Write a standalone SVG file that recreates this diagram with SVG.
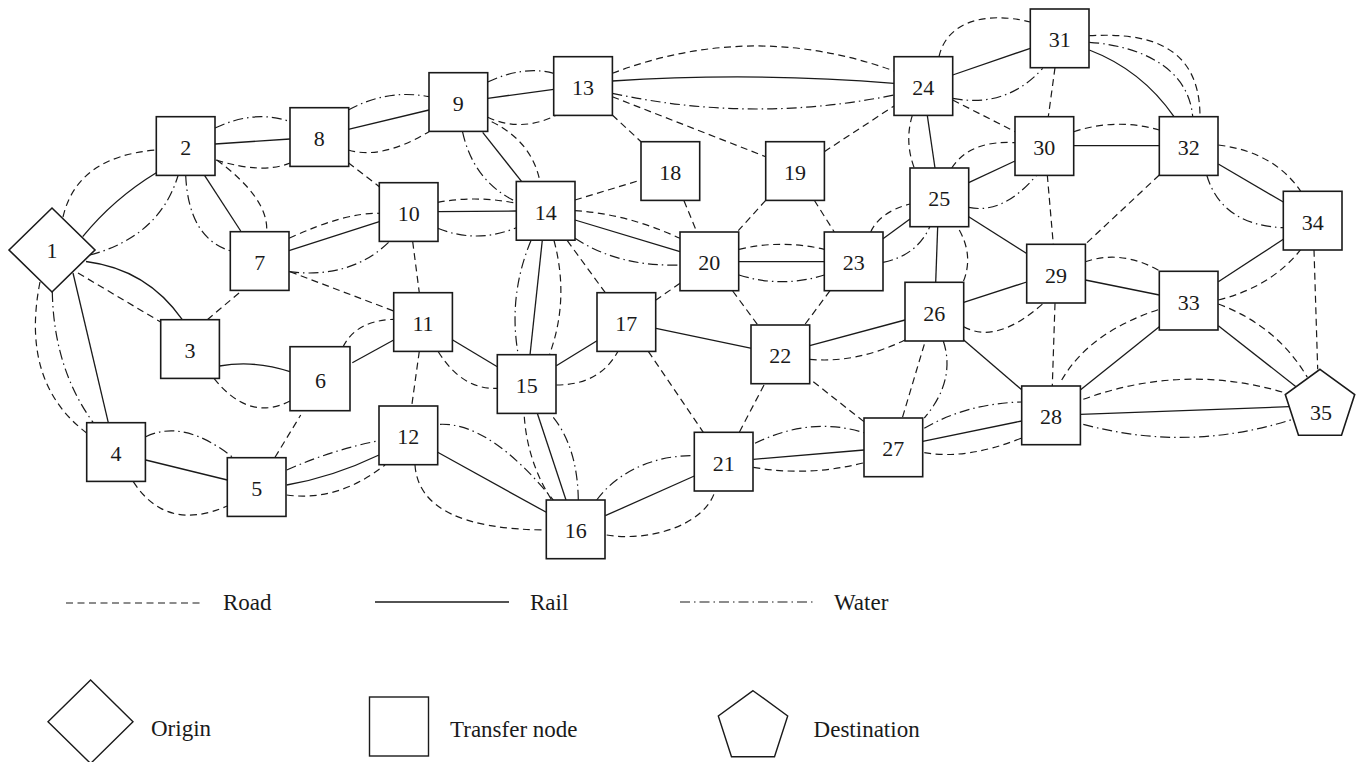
<svg xmlns="http://www.w3.org/2000/svg" width="1359" height="762" viewBox="0 0 1359 762">
<style>
.r{fill:none;stroke:#1a1a1a;stroke-width:1.2;stroke-dasharray:7 4.5}
.s{fill:none;stroke:#1a1a1a;stroke-width:1.3}
.w{fill:none;stroke:#1a1a1a;stroke-width:1.2;stroke-dasharray:10 4 1.5 4}
.n rect,.n polygon{fill:#fff;stroke:#1a1a1a;stroke-width:1.6}
.n text{font-family:"Liberation Serif","Times New Roman",serif;font-size:22px;text-anchor:middle;fill:#1a1a1a}
.lg{font-family:"Liberation Serif","Times New Roman",serif;font-size:23px;fill:#1a1a1a}
.lshape{fill:#fff;stroke:#1a1a1a;stroke-width:1.4}
</style>
<rect width="1359" height="762" fill="#fff"/>
<g id="connectors">
<!-- road -->
<path class="r" d="M63,217 Q77,156.5 156.3,150"/>
<path class="r" d="M216,160 Q263,174.5 290,163"/>
<path class="r" d="M216.7,160 Q268.3,197.9 266.7,231"/>
<path class="r" d="M289,238.3 Q345.8,212.2 379.3,213.3"/>
<path class="r" d="M290,271.7 L393.7,311"/>
<path class="r" d="M78,273 L160.7,322"/>
<path class="r" d="M40,282 Q20,382.5 86.7,433"/>
<path class="r" d="M207.3,319.7 L241.7,290.7"/>
<path class="r" d="M214,378.4 Q249,422.3 290,401"/>
<path class="r" d="M133.3,481.7 Q166.3,532.7 227.3,506"/>
<path class="r" d="M275,457.3 L300.7,415"/>
<path class="r" d="M343,347 Q355.6,320.8 393.7,319.3"/>
<path class="r" d="M286.7,495 Q338,502 385,465"/>
<path class="r" d="M348.3,150 Q381.3,160.1 429,131.7"/>
<path class="r" d="M348.3,162.7 L379.3,186.7"/>
<path class="r" d="M487.7,117.3 Q521.8,132.8 556.7,115"/>
<path class="r" d="M491.7,121.7 Q532.1,141.7 540,181.7"/>
<path class="r" d="M437.7,202.3 Q477,195.2 516.3,203.3"/>
<path class="r" d="M412.7,241.7 L419.3,292.7"/>
<path class="r" d="M612.3,115 L641,141.7"/>
<path class="r" d="M575,200 L641,180"/>
<path class="r" d="M612.3,73.3 Q753,19.8 894,71"/>
<path class="r" d="M612.3,96.7 L765.7,156.7"/>
<path class="r" d="M575,210.7 Q626,213.5 680,238.3"/>
<path class="r" d="M567.3,240.7 L605.3,292.7"/>
<path class="r" d="M554,240.5 Q569.8,299.5 549.3,355"/>
<path class="r" d="M684,200.7 L696.7,231.7"/>
<path class="r" d="M765.7,200.3 L738.3,230.7"/>
<path class="r" d="M814.3,200.3 L834.3,232"/>
<path class="r" d="M824.3,151.7 L894,106"/>
<path class="r" d="M739,249.3 Q781.7,239.3 824.3,249.3"/>
<path class="r" d="M680,283.3 L656,300"/>
<path class="r" d="M732.7,291 L757.3,324.3"/>
<path class="r" d="M830,290.7 L805,324.3"/>
<path class="r" d="M870.7,232 Q879.7,212 910,204"/>
<path class="r" d="M912.3,115.3 Q904.3,141.7 914.3,168"/>
<path class="r" d="M952.7,100 L1015,131.7"/>
<path class="r" d="M939,56.7 C946,24 982,10 1030.3,22"/>
<path class="r" d="M951.7,168 Q970,140 1015,142.7"/>
<path class="r" d="M959.3,230 Q973.7,256 963.3,281.7"/>
<path class="r" d="M963.7,326.7 Q996.5,345 1043.3,303.3"/>
<path class="r" d="M809.7,359.3 Q856,363.7 905,340"/>
<path class="r" d="M924.3,344.3 L902.3,418"/>
<path class="r" d="M764,385 L739.3,432.3"/>
<path class="r" d="M813.3,381.7 L864,421.7"/>
<path class="r" d="M648.3,351.3 L703.3,432.3"/>
<path class="r" d="M556.3,385 Q599.6,385 617.7,351.7"/>
<path class="r" d="M438.3,351.7 Q462.2,390 497.3,388.3"/>
<path class="r" d="M419.3,351.3 L411.7,406"/>
<path class="r" d="M415,465 Q419.3,529.1 546.3,530"/>
<path class="r" d="M524.3,416.7 Q527.4,461.6 551.7,500"/>
<path class="r" d="M606.7,535 C650,542 705,525 715,491"/>
<path class="r" d="M753.3,467.3 Q808.7,477 864,462.7"/>
<path class="r" d="M924.3,452.7 Q967,460 1021.7,438"/>
<path class="r" d="M1055,303.3 L1052.3,386"/>
<path class="r" d="M1047.3,175 L1053.3,244.3"/>
<path class="r" d="M1055,67.7 L1048.3,116.7"/>
<path class="r" d="M1073.7,131.7 Q1116.5,117.7 1159.3,130"/>
<path class="r" d="M1089.3,35.7 C1140,33 1200,40 1200,116.7"/>
<path class="r" d="M1159.3,175 L1085.3,244.3"/>
<path class="r" d="M1218.3,145 Q1273.9,151.8 1300.7,191.3"/>
<path class="r" d="M1085.3,261.7 Q1121.7,249.4 1159.3,270.7"/>
<path class="r" d="M1218.3,300 Q1270.5,287.1 1300.7,249.7"/>
<path class="r" d="M1218.3,304 Q1277.2,326 1307.3,377.3"/>
<path class="r" d="M1314,249.7 L1317.7,369.3"/>
<path class="r" d="M1061.7,380 Q1089.5,332 1159.3,309.3"/>
<path class="r" d="M1083.3,399.3 Q1185,362.3 1286.7,393.3"/>
<!-- rail -->
<path class="s" d="M82.7,236.7 Q113.5,198.7 156.3,172.7"/>
<path class="s" d="M215,144 L290,139"/>
<path class="s" d="M204.7,175.7 L240.7,231"/>
<path class="s" d="M289,250.7 L379.3,221.7"/>
<path class="s" d="M86,261.5 Q147.2,269.3 182.3,319.7"/>
<path class="s" d="M73,273 L108.3,422.7"/>
<path class="s" d="M219.4,366 Q255,360 290,371.7"/>
<path class="s" d="M145.7,460 L227.3,480"/>
<path class="s" d="M352.3,362.7 L393.7,340"/>
<path class="s" d="M286.7,485 Q333,477 379,455"/>
<path class="s" d="M348.3,129.3 L429,110"/>
<path class="s" d="M487.7,98.3 L553.7,89.3"/>
<path class="s" d="M482.7,132.3 L521.7,181.7"/>
<path class="s" d="M437.7,211.7 L516.3,211"/>
<path class="s" d="M612.3,81 Q753,71.8 894,83.3"/>
<path class="s" d="M575,220 L680,251.7"/>
<path class="s" d="M542.3,240.3 L530,355"/>
<path class="s" d="M739,261.7 L824.3,261.7"/>
<path class="s" d="M883,238.7 L910,219"/>
<path class="s" d="M927.3,115.3 L935,168"/>
<path class="s" d="M952.7,75 L1030.3,48.3"/>
<path class="s" d="M968.7,182.7 L1015,161"/>
<path class="s" d="M968.7,216.7 L1026.7,253.5"/>
<path class="s" d="M937.7,226.3 L935.7,282.3"/>
<path class="s" d="M963.7,302.3 L1026.7,282"/>
<path class="s" d="M809.7,345.7 L905,320"/>
<path class="s" d="M963.7,340 L1021.7,389.8"/>
<path class="s" d="M656,328.3 L751.7,348.3"/>
<path class="s" d="M556.3,365.7 L597,340.7"/>
<path class="s" d="M452.7,340 L497.3,366.7"/>
<path class="s" d="M437.7,452.3 L546.3,512.3"/>
<path class="s" d="M537.3,413.3 L566,500"/>
<path class="s" d="M605.3,515.7 L694.3,476"/>
<path class="s" d="M753.3,459.3 L864,450"/>
<path class="s" d="M922.7,441.3 L1021.7,421"/>
<path class="s" d="M1073.7,145.7 L1159.3,145.7"/>
<path class="s" d="M1089.3,50 Q1141.7,70 1174,116.7"/>
<path class="s" d="M1218.3,164 L1283.3,202"/>
<path class="s" d="M1085.3,280 L1159.3,295"/>
<path class="s" d="M1218.3,281.7 L1283.3,239.3"/>
<path class="s" d="M1218.3,325.7 L1296,386.7"/>
<path class="s" d="M1080.3,390 L1159.3,326.7"/>
<path class="s" d="M1080.3,414.3 L1289.3,406.7"/>
<!-- water -->
<path class="w" d="M90,255 Q159.4,236.5 178,175.7"/>
<path class="w" d="M215,128 Q255.5,109.1 290,121.7"/>
<path class="w" d="M185.7,175.5 Q188.7,238 230,250.7"/>
<path class="w" d="M289,271.7 Q350.8,279.3 389.3,241.7"/>
<path class="w" d="M52.3,292 Q53.8,368.6 93.3,422.7"/>
<path class="w" d="M145.7,436.7 Q183.9,418.4 233.3,457.7"/>
<path class="w" d="M286.7,470 Q333,449.6 379,440.7"/>
<path class="w" d="M348.3,110 Q387.3,88.6 429,96.7"/>
<path class="w" d="M487.7,82 Q523.3,65.3 553.7,73.3"/>
<path class="w" d="M462.5,131.7 Q473.6,181.6 516.3,201.7"/>
<path class="w" d="M437.7,228.3 Q477,244 516.3,227.7"/>
<path class="w" d="M612.3,93.3 Q753,123.8 894,95"/>
<path class="w" d="M575,238.3 Q619,267 680,265"/>
<path class="w" d="M531,240.5 Q507.8,296.1 518.3,355"/>
<path class="w" d="M739,275 Q781.7,288.4 824.3,275"/>
<path class="w" d="M883,262.3 Q916.9,255.7 930,226.3"/>
<path class="w" d="M952.7,98.3 Q1006.3,108.7 1042.7,68.3"/>
<path class="w" d="M968.7,207.3 Q1003.3,214.8 1036.7,175"/>
<path class="w" d="M943.3,341 Q956.2,380.5 924.3,418"/>
<path class="w" d="M440,424.3 Q489.9,422.4 553.3,500"/>
<path class="w" d="M553.3,417.3 Q577.6,448 578.3,500"/>
<path class="w" d="M596.7,500 C615,475 650,455 694.3,455.7"/>
<path class="w" d="M755,443.3 Q810.5,416 864,432.7"/>
<path class="w" d="M924.3,428.3 Q967,403.4 1021.7,402"/>
<path class="w" d="M1089.3,42.3 C1130,45 1188,62 1192.7,116.7"/>
<path class="w" d="M1206.7,175 Q1221.6,225.2 1283.3,227.7"/>
<path class="w" d="M1083.3,424.3 Q1188,452.8 1292.7,419.3"/>
</g>
<g id="node-1" class="n"><polygon points="9,250 52,208 95,250 52,292"/><text x="52" y="258">1</text></g>
<g id="node-2" class="n"><rect x="156.3" y="116.7" width="58.7" height="58.7"/><text x="185.7" y="155">2</text></g>
<g id="node-3" class="n"><rect x="160.7" y="319.7" width="58.7" height="58.7"/><text x="190" y="357.5">3</text></g>
<g id="node-4" class="n"><rect x="86.7" y="422.7" width="58.7" height="58.7"/><text x="116" y="461">4</text></g>
<g id="node-5" class="n"><rect x="227.3" y="457.7" width="58.7" height="58.7"/><text x="256.7" y="496">5</text></g>
<g id="node-6" class="n"><rect x="290" y="346.7" width="60" height="64"/><text x="320.5" y="388">6</text></g>
<g id="node-7" class="n"><rect x="230.3" y="231.7" width="58.7" height="58.7"/><text x="259.7" y="270">7</text></g>
<g id="node-8" class="n"><rect x="290" y="107.7" width="58.7" height="58.7"/><text x="319.3" y="146">8</text></g>
<g id="node-9" class="n"><rect x="429" y="72.7" width="58.7" height="58.7"/><text x="458.3" y="111">9</text></g>
<g id="node-10" class="n"><rect x="379.3" y="182.7" width="58.7" height="58.7"/><text x="408.7" y="221">10</text></g>
<g id="node-11" class="n"><rect x="393.7" y="292.7" width="58.7" height="58.7"/><text x="423" y="331">11</text></g>
<g id="node-12" class="n"><rect x="379" y="406" width="58.7" height="58.7"/><text x="408.3" y="444">12</text></g>
<g id="node-13" class="n"><rect x="553.7" y="56.7" width="58.7" height="58.7"/><text x="583" y="95">13</text></g>
<g id="node-14" class="n"><rect x="516.3" y="181.5" width="58.7" height="58.7"/><text x="545.7" y="220">14</text></g>
<g id="node-15" class="n"><rect x="497.3" y="354.7" width="58.7" height="58.7"/><text x="526.7" y="393">15</text></g>
<g id="node-16" class="n"><rect x="546.3" y="500" width="58.7" height="58.7"/><text x="575.7" y="538">16</text></g>
<g id="node-17" class="n"><rect x="597" y="292.7" width="58.7" height="58.7"/><text x="626.3" y="331">17</text></g>
<g id="node-18" class="n"><rect x="641" y="141.7" width="58.7" height="58.7"/><text x="670.3" y="180">18</text></g>
<g id="node-19" class="n"><rect x="765.7" y="141.7" width="58.7" height="58.7"/><text x="795" y="180">19</text></g>
<g id="node-20" class="n"><rect x="680" y="232" width="58.7" height="58.7"/><text x="709.3" y="270">20</text></g>
<g id="node-21" class="n"><rect x="694.3" y="432.3" width="58.7" height="58.7"/><text x="723.7" y="471">21</text></g>
<g id="node-22" class="n"><rect x="751" y="325" width="58.7" height="58.7"/><text x="780.3" y="363">22</text></g>
<g id="node-23" class="n"><rect x="824.3" y="232" width="58.7" height="58.7"/><text x="853.7" y="270">23</text></g>
<g id="node-24" class="n"><rect x="894" y="56.7" width="58.7" height="58.7"/><text x="923.3" y="95">24</text></g>
<g id="node-25" class="n"><rect x="910" y="168" width="58.7" height="58.7"/><text x="939.3" y="206">25</text></g>
<g id="node-26" class="n"><rect x="905" y="282.3" width="58.7" height="58.7"/><text x="934.3" y="321">26</text></g>
<g id="node-27" class="n"><rect x="864" y="418" width="58.7" height="58.7"/><text x="893.3" y="456">27</text></g>
<g id="node-28" class="n"><rect x="1021.7" y="386" width="58.7" height="58.7"/><text x="1051" y="424">28</text></g>
<g id="node-29" class="n"><rect x="1026.7" y="244.3" width="58.7" height="58.7"/><text x="1056" y="283">29</text></g>
<g id="node-30" class="n"><rect x="1015" y="116.7" width="58.7" height="58.7"/><text x="1044.3" y="155">30</text></g>
<g id="node-31" class="n"><rect x="1030.3" y="9" width="58.7" height="58.7"/><text x="1059.7" y="47">31</text></g>
<g id="node-32" class="n"><rect x="1159.3" y="116.7" width="58.7" height="58.7"/><text x="1188.7" y="155">32</text></g>
<g id="node-33" class="n"><rect x="1159.3" y="271.3" width="58.7" height="58.7"/><text x="1188.7" y="310">33</text></g>
<g id="node-34" class="n"><rect x="1283.3" y="191.3" width="58.7" height="58.7"/><text x="1312.7" y="230">34</text></g>
<g id="node-35" class="n"><polygon points="1320,369.3 1354.7,394.5 1341.5,435.3 1298.5,435.3 1285.3,394.5"/><text x="1321" y="420">35</text></g>
<g id="legend">
<line class="r" x1="66" y1="603" x2="201" y2="603"/>
<text class="lg" x="223" y="610">Road</text>
<line class="s" x1="375" y1="602" x2="509" y2="602"/>
<text class="lg" x="530" y="610">Rail</text>
<line class="w" x1="680" y1="602" x2="816" y2="602"/>
<text class="lg" x="834" y="610">Water</text>
<polygon class="lshape" points="48,721.7 90.6,680 133,721.7 90.6,763.5"/>
<text class="lg" x="151" y="736">Origin</text>
<rect class="lshape" x="369.5" y="697" width="59" height="59"/>
<text class="lg" x="450" y="737">Transfer node</text>
<polygon class="lshape" points="753,690.7 787.7,715.9 774.5,756.7 731.5,756.7 718.3,715.9"/>
<text class="lg" x="813.6" y="737">Destination</text>
</g>
</svg>
